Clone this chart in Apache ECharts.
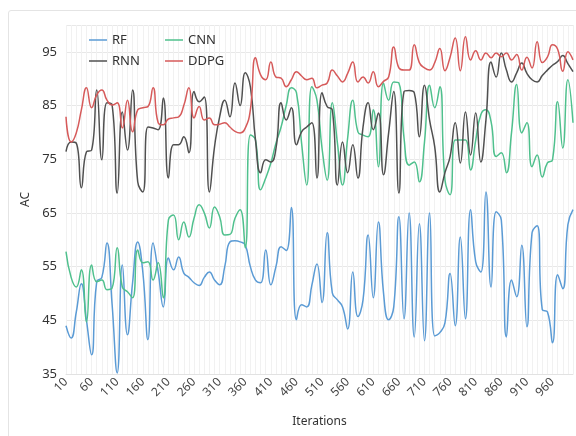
<!DOCTYPE html>
<html>
<head>
<meta charset="utf-8">
<script src="https://cdn.jsdelivr.net/npm/echarts@6/dist/echarts.min.js"></script>
<style>
  html, body { margin: 0; padding: 0; background: #fff; }
  #card { position: absolute; left: 8px; top: 10px; width: 600px; height: 460px;
          border: 1px solid #e4e4e4; border-radius: 3px; }
  #chart { position: absolute; left: 0; top: 0; width: 576px; height: 436px; }
</style>
</head>
<body>
<div id="card"></div>
<div id="chart"></div>
<script>
// iterations 10..1000, one point every 10
const iterations = [];
for (let v = 10; v <= 1000; v += 10) iterations.push(String(v));

const rf = [
  44, 41.7, 46.5, 51.8, 45, 38.6, 52.2, 53, 59.4, 48,
  35.2, 55.3, 42.3, 52, 59.6, 54, 41.4, 59.4, 54, 47.5,
  56.6, 54.4, 56.8, 53.8, 53, 52, 51.5, 53, 54, 52.5,
  51.6, 55, 59.6, 59.8, 59.6, 59, 55, 52.5, 52, 58.1,
  51.6, 55, 58.7, 58, 66, 45.1, 47.9, 47.5, 51.5, 55.5,
  48.3, 61.3, 50.1, 48.8, 47.5, 43.4, 54, 45.7, 48.8, 60.9,
  49.2, 63.3, 50.1, 45.1, 47.5, 64.3, 45.3, 65, 41.9, 63,
  41.2, 65, 42.1, 42.7, 44.5, 53.7, 44, 60.5, 45.3, 65.6,
  55.9, 54, 68.9, 51.2, 65.2, 63.7, 41.9, 52.5, 49.4, 59,
  43.8, 61.3, 62.6, 47, 46.6, 40.8, 53.5, 50.9, 62.8, 65.6
];

const cnn = [
  57.8, 53, 51.2, 54.4, 44.7, 55.3, 52.2, 52.5, 50.7, 51,
  58.5, 51.2, 50.3, 49.2, 58.1, 55.7, 55.9, 52.5, 55.7, 49.2,
  63.7, 64.6, 60, 63.3, 60.5, 64, 66.5, 65, 62.2, 66.1,
  64.3, 60.9, 61, 64, 65.6, 58.5, 79.5, 78.6, 69.3, 71.5,
  74.3, 78, 81, 85, 88.3, 87.4, 78, 70.2, 88.5, 86,
  77, 71.1, 85.5, 78, 70.2, 79, 86, 80.1, 79.5, 79.2,
  84.2, 73.6, 89.2, 86, 89.4, 89.2, 79, 73.9, 74.5, 70.8,
  78.2, 88.8, 84.6, 88.5, 71.1, 68.4, 78.6, 78.6, 78.6, 73,
  78.5, 83.3, 84.2, 82, 75.5, 76.2, 72.5, 80, 88.9, 79.9,
  81.8, 73.6, 75.8, 71.7, 74.3, 74.9, 85.7, 77.1, 89.8, 81.8
];

const rnn = [
  76.4, 78.2, 78, 69.7, 76.4, 76.7, 87.9, 74.9, 85.5, 85.1,
  68.7, 83.8, 76.7, 87.9, 70.8, 68.9, 81, 80.8, 80.5, 86.4,
  71.5, 77.7, 77.7, 79.2, 76.2, 87.6, 85.7, 86.6, 68.9, 77.3,
  82.9, 86, 82.9, 89.2, 85, 91.1, 88.5, 78.6, 72.5, 74.9,
  74.5, 77, 85.5, 82.3, 84.6, 77.7, 80.1, 81, 81.8, 71.5,
  87.4, 84.8, 84.2, 70.2, 78.2, 72.5, 77.7, 71.5, 81, 85.5,
  80.5, 83.6, 72.1, 79.9, 87.6, 68.7, 87.6, 87.8, 87.4, 79.2,
  88.8, 82.3, 77.3, 68.9, 72.5, 75.5, 81.8, 74.3, 83.8, 75.8,
  83.6, 74.5, 82.3, 93.1, 90.3, 94.8, 91.6, 89.4, 91.1, 92.9,
  91, 89.8, 89.4, 90.6, 91.6, 92.5, 93.2, 94.3, 92.8, 91.3
];

const ddpg = [
  82.9, 78.2, 79.9, 84.2, 88.3, 84.6, 87, 87.9, 86, 85.1,
  85.5, 80.8, 86, 80.1, 84.2, 84.6, 84.8, 88.3, 81.8, 81.4,
  82.5, 82.7, 82.9, 85, 88.3, 82.7, 84.8, 82.3, 82.7, 81.4,
  81.5, 81.8, 81, 80.2, 79.9, 80.8, 84.2, 93.9, 90.7, 89.8,
  93.1, 90.3, 90.1, 88.5, 89.8, 91.3, 90.5, 89.8, 90.1, 88.3,
  88.8, 89.2, 91.6, 90.5, 89.4, 91, 93.1, 89.4, 90.3, 89.2,
  91.3, 88.5, 89.5, 90.3, 95.9, 92, 91.6, 91.6, 96.3, 93,
  92, 91.6, 93, 95.6, 91.5, 94, 97.6, 91.5, 97.8, 93.5,
  95.2, 93.5, 94.8, 93.9, 94.8, 94.1, 94.8, 93.5, 94.5, 91.6,
  94, 92, 96.9, 93, 94, 96.3, 95.5, 91.4, 95, 93.5
];

const colors = { RF: '#5b9bd5', CNN: '#4fc08d', RNN: '#505050', DDPG: '#d65a5a' };
const font = '"Noto Sans", "Open Sans", sans-serif';

const chart = echarts.init(document.getElementById('chart'), null, { renderer: 'canvas' });

const makeLine = (name, data) => ({
  name,
  type: 'line',
  data,
  smooth: true,
  symbol: 'none',
  lineStyle: { width: 1.5, color: colors[name] },
  itemStyle: { color: colors[name] },
});

const legendBase = {
  orient: 'vertical',
  top: 28,
  icon: 'rect',
  itemWidth: 18,
  itemHeight: 1.5,
  itemGap: 7,
  textStyle: { fontFamily: font, fontSize: 13, color: '#333', lineHeight: 14 },
};

chart.setOption({
  animation: false,
  legend: [
    { ...legendBase, left: 84, data: ['RF', 'RNN'] },
    { ...legendBase, left: 160, data: ['CNN', 'DDPG'] },
  ],
  grid: { left: 66, right: 3, top: 25, bottom: 62 },
  xAxis: {
    type: 'category',
    data: iterations,
    boundaryGap: false,
    name: 'Iterations',
    nameLocation: 'middle',
    nameGap: 42,
    nameTextStyle: { fontFamily: font, fontSize: 12, color: '#333' },
    axisLine: { lineStyle: { color: '#e2e2e2' } },
    axisTick: { show: false },
    axisLabel: {
      interval: 4,
      rotate: 45,
      fontFamily: font,
      fontSize: 12,
      color: '#444',
      margin: 6,
    },
    splitLine: { show: true, interval: 0, lineStyle: { color: '#f1f1f1' } },
  },
  yAxis: {
    type: 'value',
    min: 35,
    max: 100,
    interval: 10,
    name: 'AC',
    nameLocation: 'middle',
    nameGap: 21,
    nameTextStyle: { fontFamily: font, fontSize: 12, color: '#333' },
    axisLine: { show: false },
    axisTick: { show: false },
    axisLabel: { fontFamily: font, fontSize: 13, color: '#333', margin: 9, showMaxLabel: false },
    splitLine: { lineStyle: { color: '#e8e8e8' } },
  },
  series: [
    makeLine('RF', rf),
    makeLine('CNN', cnn),
    makeLine('RNN', rnn),
    makeLine('DDPG', ddpg),
  ],
});
</script>
</body>
</html>
